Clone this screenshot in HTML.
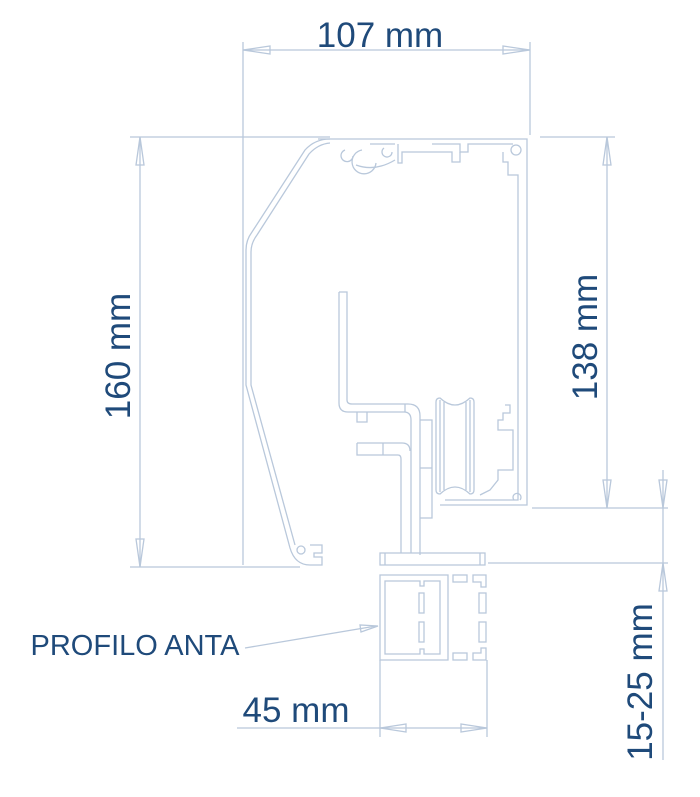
<!DOCTYPE html>
<html><head><meta charset="utf-8"><style>
html,body{margin:0;padding:0;background:#fff;}
svg{display:block}
text{font-family:"Liberation Sans",sans-serif;fill:#1f4a7a;}
</style></head><body>
<svg width="700" height="797" viewBox="0 0 700 797" xmlns="http://www.w3.org/2000/svg">
<g fill="none" stroke="#b9c8db" stroke-width="1.3">
<line x1="243" y1="42" x2="243" y2="565"/>
<line x1="530" y1="42" x2="530" y2="135"/>
<line x1="243" y1="50" x2="530" y2="50"/>
<polygon points="243,50 270,46 270,54"/>
<polygon points="530,50 503,46 503,54"/>
<line x1="130" y1="137" x2="330" y2="137"/>
<line x1="130" y1="567" x2="300" y2="567"/>
<line x1="140" y1="137" x2="140" y2="567"/>
<polygon points="140,137 136,165 144,165"/>
<polygon points="140,567 136,539 144,539"/>
<line x1="540" y1="137" x2="615" y2="137"/>
<line x1="532" y1="508" x2="668" y2="508"/>
<line x1="607" y1="137" x2="607" y2="508"/>
<polygon points="607,137 603,165 611,165"/>
<polygon points="607,508 603,480 611,480"/>
<line x1="488" y1="563" x2="668" y2="563"/>
<line x1="663" y1="470" x2="663" y2="760"/>
<polygon points="663,508 659,480 667,480"/>
<polygon points="663,563 659,591 667,591"/>
<line x1="380" y1="660" x2="380" y2="737"/>
<line x1="487" y1="660" x2="487" y2="737"/>
<line x1="237" y1="728" x2="487" y2="728"/>
<polygon points="380,728 406,724 406,732"/>
<polygon points="487,728 461,724 461,732"/>
<line x1="245" y1="648" x2="376" y2="626"/>
<polygon points="378,626 360,625 361,632"/>
<path d="M318,139 L527,139 L527,505 L440,505"/>
<path d="M370,144 L395,144 M432,144 L460,144 L460,152 L468,152 L468,144 L513,144"/>
<path d="M398,144 L398,163 L402,163 L402,152 L452,152 L452,162 L460,162 L460,152"/>
<path d="M503,152 L503,162 L508,162 L508,175 L518,175 L518,500 L445,500"/>
<circle cx="516" cy="150" r="5"/>
<path d="M345,150 a6,6 0 1,0 8,6 M362,150 a12,12 0 1,0 14,13 M384,148 a5,5 0 1,0 8,4"/>
<path d="M356,165 Q375,172 395,160"/>
<path d="M330,139 Q315,139 305,150 L252,232 Q246,240 246,250 L246,385 L290,548 Q295,565 310,565 L322,565 L322,557 L314,557 L314,553 L322,553 L322,545 L310,545"/>
<path d="M330,143 Q318,144 309,154 L257,235 Q251,243 251,252 L251,385 L295,545"/>
<circle cx="301" cy="550" r="4"/>
<path d="M339,292 L347,292 L347,400 Q347,404 352,404 L408,404 Q420,404 420,416 L420,555"/>
<path d="M339,292 L339,403 Q339,412 348,412 L404,412 Q411,412 411,420 L411,553"/>
<path d="M357,412 L357,422 L367,422 L367,412 M405,404 L405,412"/>
<path d="M357,443 L402,443 Q410,443 410,451 M357,443 L357,455 L398,455 Q401,455 401,459 L401,553 M383,443 L383,455"/>
<path d="M380,553 L485,553 L485,565 L380,565 Z M385,553 L385,565 M480,553 L480,565"/>
<path d="M420,420 L432,420 L432,518 L420,518 M420,468 L432,468"/>
<path d="M436,402 Q436,398 440,398 Q455,412 470,398 Q474,398 474,402 L474,490 Q474,494 470,494 Q455,480 440,494 Q436,494 436,490 Z"/>
<path d="M440,400 L440,492 M444,402 L444,490 M466,402 L466,490 M470,400 L470,492"/>
<path d="M505,405 L510,405 L510,413 L503,413 L503,420 L498,420 L498,430 L513,430 L513,470 L498,470 L498,480 L490,490 L480,495"/>
<path d="M514,500 a4,4 0 1,1 6,0"/>
<path d="M380,575 L448,575 L448,660 L380,660 Z"/>
<path d="M385,581 L420,581 L420,586 L424,586 L424,581 L440,581 L440,654 L424,654 L424,649 L420,649 L420,654 L385,654 Z"/>
<rect x="419" y="593" width="5" height="20"/><rect x="419" y="622" width="5" height="20"/>
<rect x="453" y="575" width="14" height="7"/><rect x="453" y="653" width="14" height="7"/>
<path d="M473,575 L486,575 L486,587 L481,587 L481,582 L473,582 Z M473,660 L486,660 L486,648 L481,648 L481,653 L473,653 Z"/>
<rect x="479" y="593" width="7" height="20"/><rect x="479" y="622" width="7" height="20"/>
</g>
<text x="380" y="47" font-size="35" text-anchor="middle">107 mm</text>
<text transform="translate(130,356) rotate(-90)" font-size="35" text-anchor="middle">160 mm</text>
<text transform="translate(597,337) rotate(-90)" font-size="35" text-anchor="middle">138 mm</text>
<text transform="translate(652,682) rotate(-90)" font-size="35" text-anchor="middle">15-25 mm</text>
<text x="296" y="722" font-size="35" text-anchor="middle">45 mm</text>
<text x="135" y="655" font-size="29" text-anchor="middle">PROFILO ANTA</text>
</svg>
</body></html>
